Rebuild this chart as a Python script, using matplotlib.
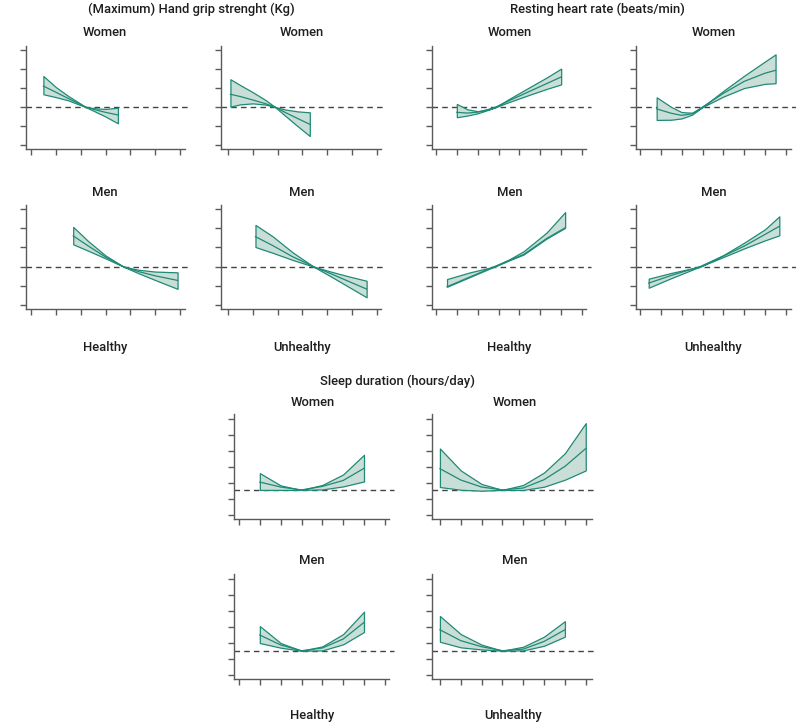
import matplotlib
matplotlib.use("Agg")
import matplotlib.pyplot as plt

plt.rcParams['font.family'] = ['Roboto', 'DejaVu Sans']

# ---------------- data ----------------
# Hand grip strength (x: tick units 0..6), y relative to reference 0
grip_wh_x = [0.5, 1.0, 1.5, 2.0, 2.2, 2.6, 3.0, 3.5]
grip_wh_hi = [1.63, 1.05, 0.58, 0.17, 0.0, -0.07, -0.10, -0.04]
grip_wh_mid = [1.10, 0.78, 0.45, 0.13, 0.0, -0.15, -0.28, -0.42]
grip_wh_lo = [0.67, 0.52, 0.35, 0.10, 0.0, -0.25, -0.50, -0.86]

grip_wu_x = [0.1, 0.5, 1.0, 1.5, 1.9, 2.3, 2.8, 3.3]
grip_wu_hi = [1.46, 1.15, 0.78, 0.38, 0.0, -0.13, -0.23, -0.28]
grip_wu_mid = [0.67, 0.55, 0.37, 0.18, 0.0, -0.28, -0.60, -0.91]
grip_wu_lo = [0.02, 0.14, 0.19, 0.13, 0.0, -0.45, -1.00, -1.53]

grip_mh_x = [1.7, 2.3, 3.0, 3.72, 4.3, 5.0, 5.9]
grip_mh_hi = [2.07, 1.33, 0.58, 0.0, -0.16, -0.26, -0.30]
grip_mh_mid = [1.60, 1.08, 0.50, 0.0, -0.25, -0.48, -0.72]
grip_mh_lo = [1.16, 0.83, 0.43, 0.0, -0.33, -0.70, -1.16]

grip_mu_x = [1.11, 1.8, 2.6, 3.45, 4.2, 4.9, 5.59]
grip_mu_hi = [2.17, 1.58, 0.75, 0.0, -0.28, -0.52, -0.74]
grip_mu_mid = [1.56, 1.10, 0.52, 0.0, -0.40, -0.79, -1.17]
grip_mu_lo = [1.02, 0.72, 0.35, 0.0, -0.55, -1.08, -1.60]

# Resting heart rate (x: tick units 0..7)
hr_wh_x = [1.0, 1.5, 2.0, 2.5, 2.87, 3.5, 4.5, 5.3, 6.0]
hr_wh_hi = [0.16, -0.12, -0.22, -0.13, 0.0, 0.42, 1.05, 1.55, 2.02]
hr_wh_mid = [-0.28, -0.32, -0.27, -0.13, 0.0, 0.33, 0.83, 1.23, 1.58]
hr_wh_lo = [-0.54, -0.45, -0.33, -0.15, 0.0, 0.26, 0.65, 0.95, 1.19]

hr_wu_x = [0.8, 1.5, 2.0, 2.5, 3.0, 4.0, 5.0, 6.0, 6.5]
hr_wu_hi = [0.51, 0.0, -0.27, -0.30, 0.0, 0.85, 1.65, 2.40, 2.77]
hr_wu_mid = [-0.10, -0.33, -0.44, -0.36, 0.0, 0.72, 1.35, 1.78, 1.93]
hr_wu_lo = [-0.68, -0.67, -0.60, -0.40, 0.0, 0.55, 1.00, 1.22, 1.25]

hr_mh_x = [0.53, 1.63, 2.8, 3.5, 4.2, 5.3, 6.19]
hr_mh_hi = [-0.65, -0.30, 0.0, 0.37, 0.80, 1.77, 2.84]
hr_mh_mid = [-1.05, -0.54, 0.0, 0.32, 0.63, 1.46, 2.02]
hr_mh_lo = [-1.05, -0.54, 0.0, 0.32, 0.63, 1.46, 2.02]

hr_mu_x = [0.42, 1.5, 2.88, 4.0, 5.0, 6.0, 6.68]
hr_mu_hi = [-0.63, -0.33, 0.0, 0.60, 1.25, 1.95, 2.62]
hr_mu_mid = [-0.86, -0.46, 0.0, 0.55, 1.07, 1.68, 2.10]
hr_mu_lo = [-1.10, -0.60, 0.0, 0.50, 0.95, 1.37, 1.63]

# Sleep duration (x: tick units 0..7, y: tick units 0..6)
sleep_ref_women = 1.55
sleep_ref_men = 1.50

sl_wh_x = [1, 2, 3, 4, 5, 6]
sl_wh_hi = [2.60, 1.83, 1.55, 1.86, 2.52, 3.75]
sl_wh_mid = [2.04, 1.73, 1.55, 1.77, 2.14, 2.90]
sl_wh_lo = [1.55, 1.55, 1.55, 1.58, 1.77, 2.08]

sl_wu_x = [0, 1, 2, 3, 4, 5, 6, 7]
sl_wu_hi = [4.14, 2.77, 1.92, 1.55, 1.86, 2.64, 3.85, 5.73]
sl_wu_mid = [2.88, 2.17, 1.73, 1.55, 1.67, 2.19, 3.02, 4.14]
sl_wu_lo = [1.73, 1.56, 1.50, 1.55, 1.55, 1.75, 2.19, 2.77]

sl_mh_x = [1, 2, 3, 4, 5, 6]
sl_mh_hi = [3.04, 1.98, 1.50, 1.77, 2.54, 3.94]
sl_mh_mid = [2.48, 1.86, 1.50, 1.67, 2.23, 3.27]
sl_mh_lo = [1.98, 1.69, 1.50, 1.52, 1.90, 2.67]

sl_mu_x = [0, 1, 2, 3, 4, 5, 6]
sl_mu_hi = [3.67, 2.54, 1.88, 1.50, 1.75, 2.38, 3.35]
sl_mu_mid = [2.81, 2.13, 1.75, 1.50, 1.60, 2.08, 2.81]
sl_mu_lo = [2.06, 1.71, 1.58, 1.50, 1.52, 1.81, 2.38]

grip_xticks = list(range(7))
hr_xticks = list(range(8))
sleep_xticks = list(range(8))
hr_grip_yticks = [-2, -1, 0, 1, 2, 3]
sleep_yticks = list(range(7))

# ---------------- style ----------------
W, H = 796, 724
DPI = 100
LINE = '#1f8a76'
FILL = '#c9ded7'
AXC = '#5a5a5a'
TXT = '#1e1e1e'
FS = 9.4

fig = plt.figure(figsize=(W / DPI, H / DPI), dpi=DPI)
fig.patch.set_facecolor('white')


def px_axes(l, r, t, b):
    return fig.add_axes([l / W, 1 - b / H, (r - l) / W, (b - t) / H])


def style(ax, xticks, yticks, xlim, ylim, ref):
    ax.set_xlim(*xlim)
    ax.set_ylim(*ylim)
    ax.set_xticks(xticks)
    ax.set_yticks(yticks)
    ax.set_xticklabels([])
    ax.set_yticklabels([])
    for s in ('top', 'right'):
        ax.spines[s].set_visible(False)
    for s in ('left', 'bottom'):
        ax.spines[s].set_color(AXC)
        ax.spines[s].set_linewidth(1.0)
    ax.tick_params(length=4, width=1.0, color=AXC, direction='out')
    ax.axhline(ref, xmax=1.03, color='#444444', lw=1.0, ls=(0, (4, 3)),
               zorder=1, clip_on=False)
    ax.patch.set_alpha(0)


def band(ax, x, lo, mid, hi):
    ax.fill_between(x, lo, hi, facecolor=FILL, edgecolor=LINE, lw=0.9, zorder=2)
    ax.plot(x, mid, color=LINE, lw=0.9, zorder=3)


def ftext(x, y, s, **kw):
    fig.text(x / W, 1 - y / H, s, ha='center', va='center', fontsize=FS,
             color=TXT, fontweight='medium', **kw)


GRIP_YL = (-2.21, 3.21)
SL_YL = (-0.27, 6.3)

# Top block: grip and heart rate
panels = [
    # (l, r, t, b, xticks, xlim, data)
    (26, 185, 46, 149, grip_xticks, (-0.2, 6.2), (grip_wh_x, grip_wh_lo, grip_wh_mid, grip_wh_hi)),
    (221, 381, 46, 149, grip_xticks, (-0.28, 6.17), (grip_wu_x, grip_wu_lo, grip_wu_mid, grip_wu_hi)),
    (432, 586, 46, 149, hr_xticks, (-0.19, 7.19), (hr_wh_x, hr_wh_lo, hr_wh_mid, hr_wh_hi)),
    (636, 791, 46, 149, hr_xticks, (-0.19, 7.24), (hr_wu_x, hr_wu_lo, hr_wu_mid, hr_wu_hi)),
    (26, 185, 205, 309, grip_xticks, (-0.2, 6.2), (grip_mh_x, grip_mh_lo, grip_mh_mid, grip_mh_hi)),
    (221, 381, 205, 309, grip_xticks, (-0.28, 6.17), (grip_mu_x, grip_mu_lo, grip_mu_mid, grip_mu_hi)),
    (432, 586, 205, 309, hr_xticks, (-0.19, 7.19), (hr_mh_x, hr_mh_lo, hr_mh_mid, hr_mh_hi)),
    (636, 791, 205, 309, hr_xticks, (-0.19, 7.24), (hr_mu_x, hr_mu_lo, hr_mu_mid, hr_mu_hi)),
]
for l, r, t, b, xt, xl, d in panels:
    ax = px_axes(l, r, t, b)
    style(ax, xt, hr_grip_yticks, xl, GRIP_YL, 0.0)
    band(ax, *d)

sleep_panels = [
    (234, 389, 414, 519, sleep_ref_women, (sl_wh_x, sl_wh_lo, sl_wh_mid, sl_wh_hi)),
    (432, 592, 414, 519, sleep_ref_women, (sl_wu_x, sl_wu_lo, sl_wu_mid, sl_wu_hi)),
    (234, 389, 574, 679, sleep_ref_men, (sl_mh_x, sl_mh_lo, sl_mh_mid, sl_mh_hi)),
    (432, 592, 574, 679, sleep_ref_men, (sl_mu_x, sl_mu_lo, sl_mu_mid, sl_mu_hi)),
]
for l, r, t, b, ref, d in sleep_panels:
    ax = px_axes(l, r, t, b)
    xl = (-0.24, 7.2) if l < 400 else (-0.38, 7.3)
    style(ax, sleep_xticks, sleep_yticks, xl, SL_YL, ref)
    band(ax, *d)

# Text
ftext(191, 9, '(Maximum) Hand grip strenght (Kg)')
ftext(597, 9, 'Resting heart rate (beats/min)')
for cx in (105, 302, 510, 714):
    ftext(cx, 32, 'Women')
    ftext(cx, 192, 'Men')
for cx, lab in ((105, 'Healthy'), (302, 'Unhealthy'), (509, 'Healthy'), (713, 'Unhealthy')):
    ftext(cx, 347, lab)

ftext(398, 381, 'Sleep duration (hours/day)')
ftext(313, 402, 'Women')
ftext(515, 402, 'Women')
ftext(312, 561, 'Men')
ftext(515, 561, 'Men')
ftext(312, 716, 'Healthy')
ftext(513, 716, 'Unhealthy')

fig.savefig('out.png', dpi=DPI, facecolor='white')
